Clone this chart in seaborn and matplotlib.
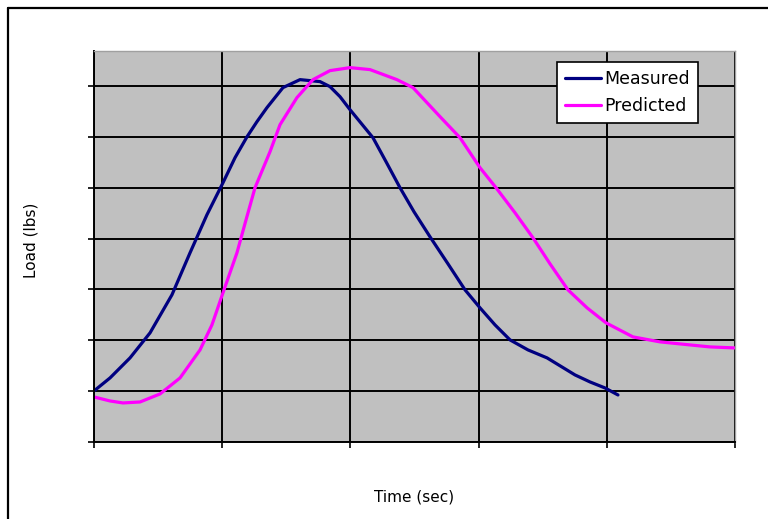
import matplotlib
matplotlib.use("Agg")
import matplotlib.pyplot as plt
import seaborn as sns
import pandas as pd
from matplotlib.lines import Line2D

# ---- data ----
measured_time = [0.000, 0.125, 0.281, 0.437, 0.608, 0.749, 0.881, 1.006, 1.100, 1.194,
                 1.271, 1.349, 1.474, 1.607, 1.763, 1.841, 1.919, 1.997, 2.176, 2.278,
                 2.387, 2.496, 2.621, 2.761, 2.894, 3.011, 3.128, 3.245, 3.385, 3.534,
                 3.752, 3.869, 3.986, 4.087]
measured_load = [1.004, 1.260, 1.654, 2.146, 2.894, 3.720, 4.469, 5.098, 5.591, 6.004,
                 6.299, 6.575, 6.969, 7.126, 7.087, 6.988, 6.791, 6.535, 5.984, 5.512,
                 5.000, 4.528, 4.035, 3.504, 2.992, 2.638, 2.303, 2.008, 1.811, 1.654,
                 1.319, 1.181, 1.063, 0.925]

predicted_time = [0.000, 0.125, 0.226, 0.359, 0.515, 0.671, 0.827, 0.920, 1.014, 1.115,
                  1.186, 1.256, 1.373, 1.451, 1.583, 1.708, 1.841, 1.997, 2.153, 2.363,
                  2.488, 2.699, 2.855, 3.011, 3.136, 3.284, 3.424, 3.557, 3.697, 3.846,
                  3.994, 4.204, 4.415, 4.649, 4.805, 5.000]
predicted_load = [0.886, 0.807, 0.768, 0.787, 0.945, 1.260, 1.811, 2.303, 2.992, 3.720,
                  4.370, 5.000, 5.709, 6.240, 6.772, 7.126, 7.303, 7.362, 7.323, 7.126,
                  6.969, 6.398, 5.984, 5.394, 5.000, 4.508, 4.016, 3.504, 2.992, 2.638,
                  2.343, 2.067, 1.969, 1.909, 1.870, 1.850]

series_names = ["Measured", "Predicted"]
series_colors = ["#000080", "#FF00FF"]
x_label = "Time (sec)"
y_label = "Load (lbs)"

df = pd.concat([
    pd.DataFrame({"Time": measured_time, "Load": measured_load, "Series": series_names[0]}),
    pd.DataFrame({"Time": predicted_time, "Load": predicted_load, "Series": series_names[1]}),
])

sns.set_style("white")
plt.rcParams["font.family"] = ["DejaVu Sans"]
plt.rcParams["text.color"] = "black"

fig = plt.figure(figsize=(7.68, 5.19), dpi=100)
W, H = 768, 519
left, right, top, bottom = 94, 735, 51, 442
ax = fig.add_axes([left / W, 1 - bottom / H, (right - left) / W, (bottom - top) / H])
ax.set_facecolor("#C0C0C0")

sns.lineplot(data=df, x="Time", y="Load", hue="Series", hue_order=series_names,
             palette=series_colors, linewidth=2.3, sort=False, ax=ax, legend=False,
             solid_joinstyle="round", solid_capstyle="round")

ymax = 7 + 35 / 50.8
ax.set_xlim(0, 5)
ax.set_ylim(0, ymax)
ax.set_xticks([0, 1, 2, 3, 4, 5])
ax.set_yticks([0, 1, 2, 3, 4, 5, 6, 7])
ax.set_xticklabels([])
ax.set_yticklabels([])
ax.grid(True, color="black", linewidth=1.4)
ax.set_axisbelow(True)
ax.tick_params(axis="both", direction="out", length=4, width=1.2, color="black",
               left=True, bottom=True)
for s in ["left", "bottom"]:
    ax.spines[s].set_color("black")
    ax.spines[s].set_linewidth(1.4)
for s in ["top", "right"]:
    ax.spines[s].set_color("#A0A0A0")
    ax.spines[s].set_linewidth(1.0)

ax.set_xlabel("")
ax.set_ylabel("")
fig.text(414 / W, 1 - 497 / H, x_label, ha="center", va="center", fontsize=11, color="black")
fig.text(31 / W, 1 - 240 / H, y_label, ha="center", va="center", fontsize=11,
         rotation=90, color="black")

handles = [Line2D([0], [0], color=c, linewidth=2.3) for c in series_colors]
leg = ax.legend(handles, series_names, loc="upper left",
                bbox_to_anchor=((557 - left) / (right - left), (bottom - 62) / (bottom - top)),
                fontsize=12.5, frameon=True, fancybox=False, framealpha=1,
                edgecolor="black", facecolor="white", handlelength=2.1,
                handletextpad=0.2, borderpad=0.45, labelspacing=0.55, borderaxespad=0)
leg.get_frame().set_linewidth(1.2)
for t in leg.get_texts():
    t.set_color("black")

# outer chart-area border (clipped at right and bottom like the reference)
fig.add_artist(Line2D([8 / W, 1.0], [1 - 8 / H, 1 - 8 / H], color="black", linewidth=1.6,
                      transform=fig.transFigure))
fig.add_artist(Line2D([8 / W, 8 / W], [1 - 8 / H, 0.0], color="black", linewidth=1.6,
                      transform=fig.transFigure))

fig.savefig("out.png", dpi=100, facecolor="white")
